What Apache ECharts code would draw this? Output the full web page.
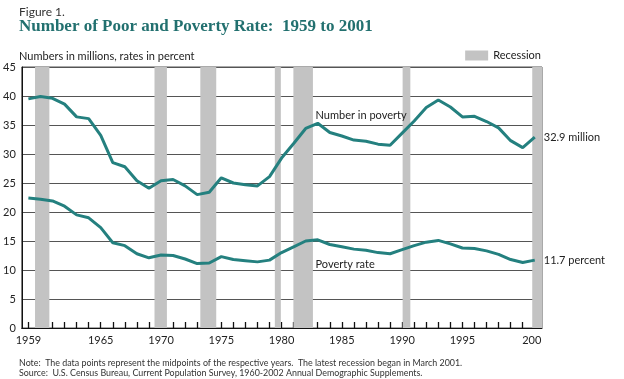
<!DOCTYPE html>
<html><head><meta charset="utf-8">
<script src="https://cdn.jsdelivr.net/npm/echarts@6/dist/echarts.min.js"></script>
<style>html,body{margin:0;padding:0;background:#fff}#c{width:624px;height:379px}</style>
</head><body><div id="c"></div>
<script>
const years = [1959,1960,1961,1962,1963,1964,1965,1966,1967,1968,1969,1970,1971,1972,1973,1974,1975,1976,1977,1978,1979,1980,1981,1982,1983,1984,1985,1986,1987,1988,1989,1990,1991,1992,1993,1994,1995,1996,1997,1998,1999,2000,2001];
const numberInPoverty = [39.5,39.9,39.6,38.6,36.4,36.1,33.2,28.5,27.8,25.4,24.1,25.4,25.6,24.5,23.0,23.4,25.9,25.0,24.7,24.5,26.1,29.3,31.8,34.4,35.3,33.7,33.1,32.4,32.2,31.7,31.5,33.6,35.7,38.0,39.3,38.1,36.4,36.5,35.6,34.5,32.3,31.1,32.9];
const povertyRate = [22.4,22.2,21.9,21.0,19.5,19.0,17.3,14.7,14.2,12.8,12.1,12.6,12.5,11.9,11.1,11.2,12.3,11.8,11.6,11.4,11.7,13.0,14.0,15.0,15.2,14.4,14.0,13.6,13.4,13.0,12.8,13.5,14.2,14.8,15.1,14.5,13.8,13.7,13.3,12.7,11.8,11.3,11.7];
const recessionStart = [1959.55,1969.46,1973.26,1979.44,1980.98,1990.04,2000.79];
const recessionEnd   = [1960.74,1970.49,1974.58,1979.94,1982.6,1990.68,2001.6];
const xTickLabels = [1959,1965,1970,1975,1980,1985,1990,1995,2001];

const teal = '#24807f';
const font = 'Lato, "Open Sans", sans-serif';
const chart = echarts.init(document.getElementById('c'), null, {renderer:'canvas'});
const recData = recessionStart.map((s,i)=>[s, recessionEnd[i]]);
chart.setOption({
  animation:false,
  textStyle:{fontFamily:font},
  title:[
    {text:'Figure 1.', left:19, top:6, padding:0, textStyle:{fontSize:12, fontWeight:'normal', color:'#333', fontFamily:font}},
    {text:'Number of Poor and Poverty Rate:  1959 to 2001', left:19, top:18, padding:0, textStyle:{fontSize:17, fontWeight:'bold', color:'#22706f', fontFamily:'"Liberation Serif", serif'}},
    {text:'Numbers in millions, rates in percent', left:19, top:51, padding:0, textStyle:{fontSize:11, fontWeight:'normal', color:'#222', fontFamily:font}},
    {text:'Note:  The data points represent the midpoints of the respective years.  The latest recession began in March 2001.\nSource:  U.S. Census Bureau, Current Population Survey, 1960-2002 Annual Demographic Supplements.', left:19, top:358, padding:0, textStyle:{fontSize:8.9, fontWeight:'normal', color:'#333', lineHeight:10, fontFamily:font}}
  ],
  legend:{data:[{name:'Recession', icon:'rect'}], right:83, top:50, padding:0, itemWidth:23, itemHeight:10, itemGap:5,
    textStyle:{fontSize:11, color:'#222', fontFamily:font}},
  grid:{left:20, right:82, top:67, bottom:51, show:true, borderColor:'#555', borderWidth:1},
  xAxis:{type:'value', min:1958.45, max:2001.6,
    axisLine:{show:true, lineStyle:{color:'#111', width:1}},
    axisTick:{show:true, inside:true, length:6, customValues:years, lineStyle:{color:'#111', width:1.3}},
    axisLabel:{customValues:xTickLabels, fontSize:11, color:'#222', margin:7,
      formatter:v=> v===2001 ? '{c|200}' : String(v),
      rich:{c:{fontSize:11, color:'#222', padding:[0,6,0,0]}}},
    splitLine:{show:false}},
  yAxis:{type:'value', min:0, max:45, interval:5,
    axisLine:{show:true, lineStyle:{color:'#111'}},
    axisTick:{show:false},
    axisLabel:{fontSize:11, color:'#222', margin:6},
    splitLine:{show:true, lineStyle:{color:'#555', width:1}}},
  series:[
    {name:'Recession', type:'custom', data:recData, z:1, itemStyle:{color:'#c3c3c3'},
      encode:{x:[0,1]},
      renderItem:(params, api)=>{
        const p0 = api.coord([api.value(0), 45]);
        const p1 = api.coord([api.value(1), 0]);
        return {type:'rect', shape:echarts.graphic.clipRectByRect({x:p0[0], y:p0[1], width:p1[0]-p0[0], height:p1[1]-p0[1]},
          {x:params.coordSys.x, y:params.coordSys.y, width:params.coordSys.width, height:params.coordSys.height}),
          style:{fill:'#c3c3c3'}};
      }},
    {name:'Number in poverty', type:'line', data:years.map((y,i)=>[y, numberInPoverty[i]]), symbol:'none', z:3,
      lineStyle:{color:teal, width:3}, itemStyle:{color:teal},
      endLabel:{show:true, formatter:'32.9 million', distance:9, fontSize:11, color:'#222', fontFamily:font},
      markPoint:{symbol:'rect', symbolSize:0, data:[{coord:[1982.4, 36.6], label:{show:true, formatter:'Number in poverty', position:'right', fontSize:11, color:'#222', fontFamily:font}}]}},
    {name:'Poverty rate', type:'line', data:years.map((y,i)=>[y, povertyRate[i]]), symbol:'none', z:3,
      lineStyle:{color:teal, width:3}, itemStyle:{color:teal},
      endLabel:{show:true, formatter:'11.7 percent', distance:9, fontSize:11, color:'#222', fontFamily:font},
      markPoint:{symbol:'rect', symbolSize:0, data:[{coord:[1982.4, 11.0], label:{show:true, formatter:'Poverty rate', position:'right', fontSize:11, color:'#222', fontFamily:font}}]}}
  ]
});
</script></body></html>
